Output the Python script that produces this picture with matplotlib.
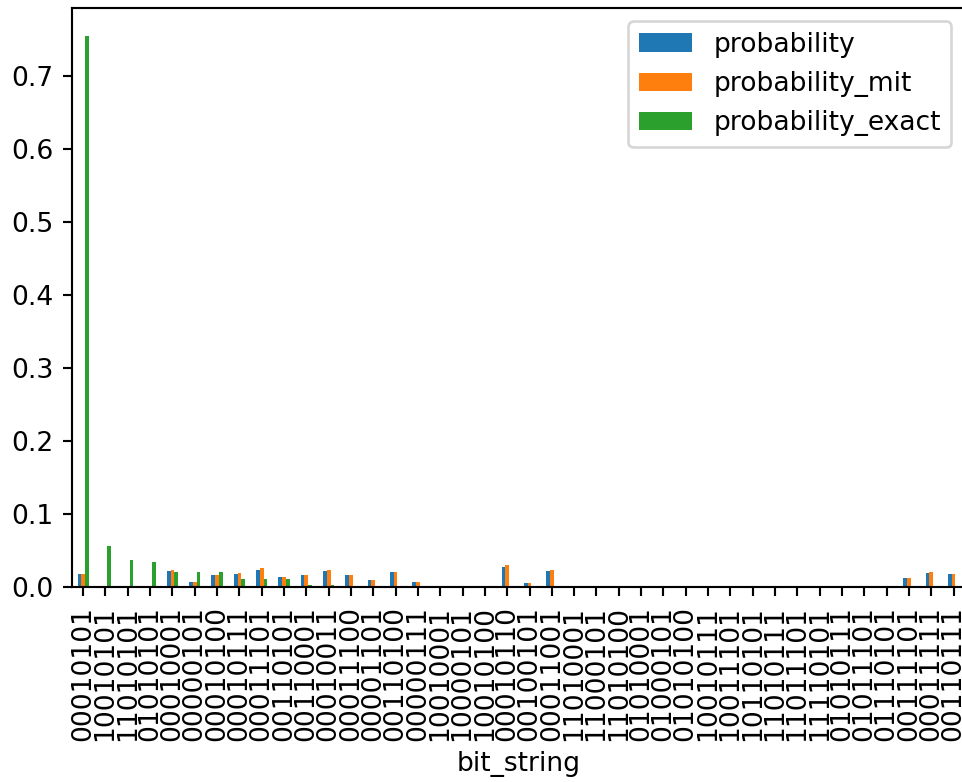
import matplotlib
matplotlib.use("Agg")
from matplotlib import pyplot as plt
import pandas as pd

bit_strings = [
    "00010101", "10010101", "11010101", "01010101", "00010001",
    "00000101", "00010100", "00010111", "00011101", "00110101",
    "00110001", "00010011", "00011100", "00001101", "00110100",
    "00000111", "10010001", "10000101", "10010100", "00010110",
    "00100101", "00011001", "11010001", "11000101", "11010100",
    "01010001", "01000101", "01010100", "10010111", "10011101",
    "10110101", "11010111", "11011101", "11110101", "01010111",
    "01011101", "01110101", "00111101", "00011111", "00110111",
]

probability = [
    0.0173, 0.0020, 0.0, 0.0, 0.0214, 0.0064, 0.0160, 0.0173, 0.0228, 0.0132,
    0.0160, 0.0214, 0.0160, 0.0091, 0.0200, 0.0064, 0.0020, 0.0, 0.0020, 0.0280,
    0.0050, 0.0214, 0.0, 0.0, 0.0, 0.0020, 0.0, 0.0, 0.0020, 0.0020,
    0.0, 0.0, 0.0, 0.0, 0.0, 0.0020, 0.0, 0.0118, 0.0187, 0.0173,
]

probability_mit = [
    0.0173, 0.0005, 0.0, 0.0, 0.0228, 0.0064, 0.0160, 0.0187, 0.0255, 0.0132,
    0.0160, 0.0228, 0.0160, 0.0091, 0.0200, 0.0064, 0.0020, 0.0, 0.0005, 0.0300,
    0.0050, 0.0228, 0.0, 0.0, 0.0, 0.0020, 0.0, 0.0, 0.0005, 0.0020,
    0.0, 0.0, 0.0, 0.0, 0.0, 0.0020, 0.0, 0.0130, 0.0200, 0.0173,
]

probability_exact = [
    0.7550, 0.0555, 0.0368, 0.0340, 0.0200, 0.0200, 0.0200, 0.0105, 0.0105, 0.0105,
    0.0023, 0.0023, 0.0020, 0.0020, 0.0020, 0.0020, 0.0, 0.0, 0.0, 0.0,
    0.0, 0.0, 0.0, 0.0, 0.0, 0.0, 0.0, 0.0, 0.0, 0.0,
    0.0, 0.0, 0.0, 0.0, 0.0, 0.0, 0.0, 0.0, 0.0, 0.0,
]

df = pd.DataFrame(
    {
        "probability": probability,
        "probability_mit": probability_mit,
        "probability_exact": probability_exact,
    },
    index=pd.Index(bit_strings, name="bit_string"),
)

dpi = 191
fig = plt.figure(figsize=(962 / dpi, 782 / dpi), dpi=dpi)
ax = fig.add_axes([72 / 962, 1 - 587 / 782, (964.7 - 72) / 962, (587 - 8) / 782])

df.plot.bar(ax=ax)
ax.legend(loc="upper right")

fig.savefig("out.png", dpi=dpi)
